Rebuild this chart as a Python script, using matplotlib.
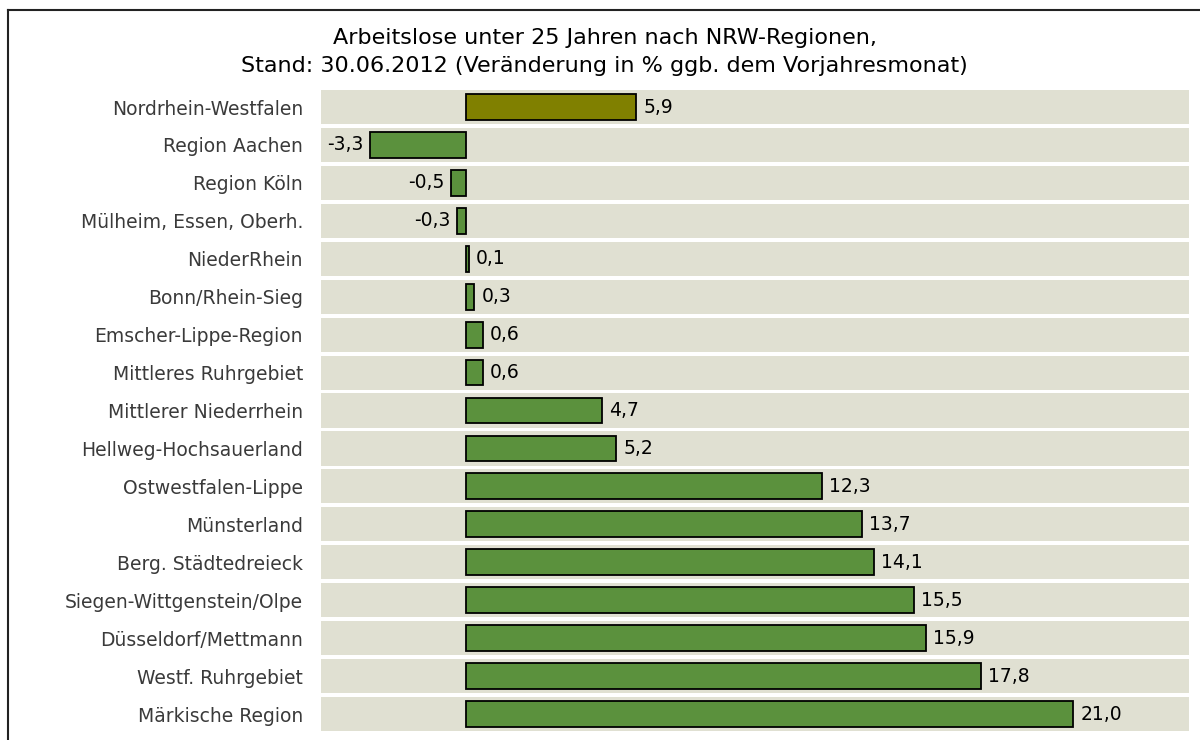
import numpy as np
import matplotlib.pyplot as plt
from matplotlib.lines import Line2D

# data, top to bottom
regions = ['Nordrhein-Westfalen', 'Region Aachen', 'Region Köln', 'Mülheim, Essen, Oberh.',
           'NiederRhein', 'Bonn/Rhein-Sieg', 'Emscher-Lippe-Region', 'Mittleres Ruhrgebiet',
           'Mittlerer Niederrhein', 'Hellweg-Hochsauerland', 'Ostwestfalen-Lippe', 'Münsterland',
           'Berg. Städtedreieck', 'Siegen-Wittgenstein/Olpe', 'Düsseldorf/Mettmann',
           'Westf. Ruhrgebiet', 'Märkische Region']
change = [5.9, -3.3, -0.5, -0.3, 0.1, 0.3, 0.6, 0.6, 4.7, 5.2, 12.3, 13.7, 14.1, 15.5, 15.9, 17.8, 21.0]
title = 'Arbeitslose unter 25 Jahren nach NRW-Regionen,\nStand: 30.06.2012 (Veränderung in % ggb. dem Vorjahresmonat)'

plt.rcParams['font.family'] = ['DejaVu Sans']

fig = plt.figure(figsize=(12, 7.4), dpi=100)
ax = fig.add_axes([0.2675, 0.0095, 0.7235, 0.8715])

y = np.arange(len(regions))
xmin, xmax = -5, 25

# background bands
ax.barh(y, xmax - xmin, left=xmin, height=0.9, color='#e0e0d2', zorder=1)

colors = ['#808000'] + ['#5b913d'] * (len(regions) - 1)
ax.barh(y, change, height=0.68, color=colors, edgecolor='black', linewidth=1.3, zorder=2)

for yi, v in zip(y, change):
    s = f'{v:.1f}'.replace('.', ',')
    if v >= 0:
        ax.annotate(s, (v, yi), xytext=(5, 0), textcoords='offset points',
                    ha='left', va='center', fontsize=13.5, color='black')
    else:
        ax.annotate(s, (v, yi), xytext=(-5, 0), textcoords='offset points',
                    ha='right', va='center', fontsize=13.5, color='black')

ax.set_xlim(xmin, xmax)
ax.set_ylim(len(regions) - 0.5, -0.5)
ax.set_yticks(y)
ax.set_yticklabels(regions, fontsize=13.5, color='#3a3a3a')
ax.tick_params(axis='y', length=0, pad=13)
ax.set_xticks([])
for sp in ax.spines.values():
    sp.set_visible(False)

fig.text(0.504, 0.930, title, ha='center', va='center', fontsize=16, color='black', linespacing=1.5)

# frame lines
fig.add_artist(Line2D([8 / 1200, 8 / 1200], [0, 1 - 10 / 740], color='#222222', linewidth=1.5))
fig.add_artist(Line2D([8 / 1200, 1], [1 - 10 / 740, 1 - 10 / 740], color='#222222', linewidth=1.5))

fig.savefig('out.png', dpi=100)
